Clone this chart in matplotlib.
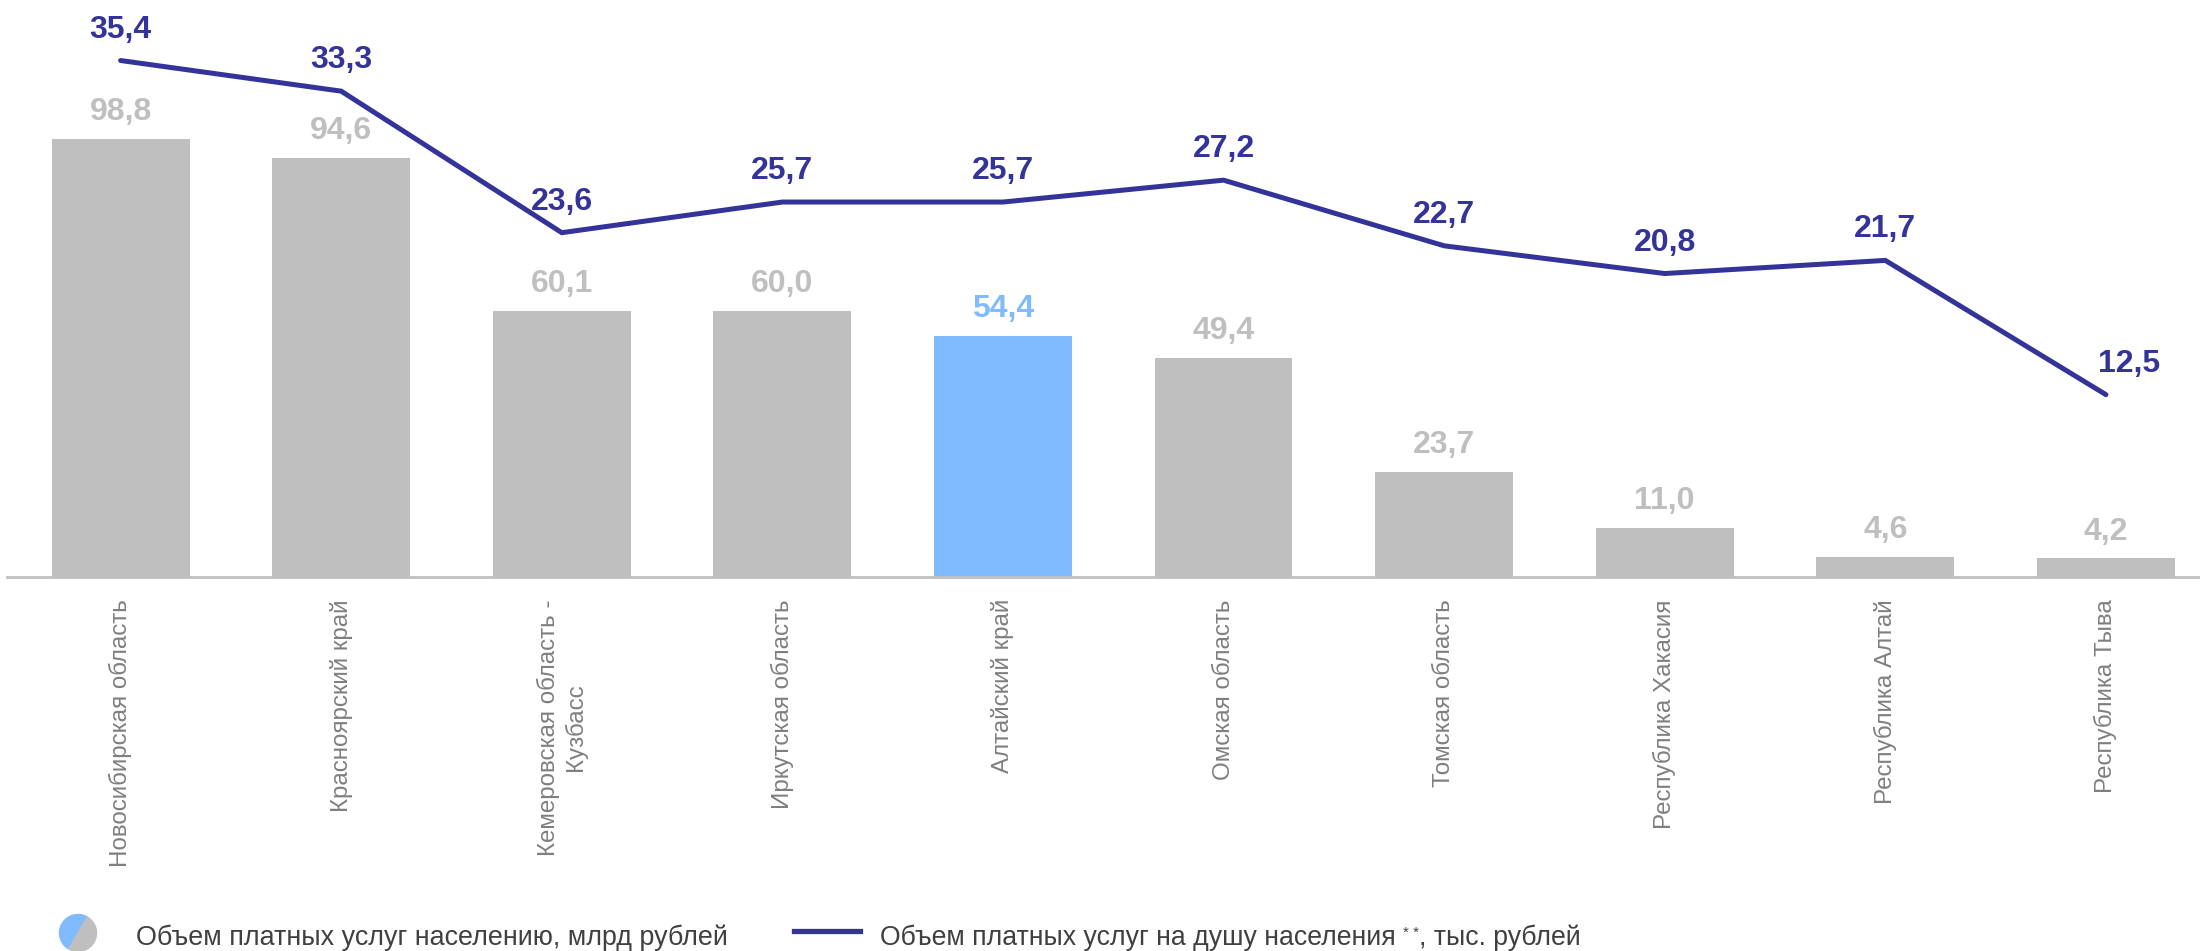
import matplotlib
matplotlib.use("Agg")
import matplotlib.pyplot as plt
from matplotlib.patches import Wedge
from matplotlib.lines import Line2D

plt.rcParams['font.family'] = ['Liberation Sans', 'DejaVu Sans']

# data
regions = ["Новосибирская область", "Красноярский край", "Кемеровская область -\nКузбасс",
           "Иркутская область", "Алтайский край", "Омская область", "Томская область",
           "Республика Хакасия", "Республика Алтай", "Республика Тыва"]
volume = [98.8, 94.6, 60.1, 60.0, 54.4, 49.4, 23.7, 11.0, 4.6, 4.2]      # млрд рублей
per_capita = [35.4, 33.3, 23.6, 25.7, 25.7, 27.2, 22.7, 20.8, 21.7, 12.5]  # тыс. рублей
highlight = "Алтайский край"

grey = "#bfbfbf"
blue = "#80bbff"
navy = "#333399"
txt_grey = "#7f7f7f"
W, H = 2200, 951

fig = plt.figure(figsize=(22, 9.51), dpi=100)
ax = fig.add_axes([7 / W, 1 - 577 / H, (W - 7) / W, 577 / H])
ax2 = ax.twinx()

x = list(range(len(regions)))
colors = [blue if r == highlight else grey for r in regions]
ax.bar(x, volume, width=0.625, color=colors, zorder=2)
for xi, v, c in zip(x, volume, colors):
    ax.annotate(f"{v:.1f}".replace(".", ","), (xi, v), xytext=(0, 13.5), textcoords="offset points",
                ha="center", va="baseline", fontsize=23, fontweight="bold", color=c)

ax2.plot(x, per_capita, color=navy, lw=3.6, solid_capstyle="round", solid_joinstyle="miter", zorder=3)
for i, (xi, v) in enumerate(zip(x, per_capita)):
    dx = 16.5 if i == len(x) - 1 else 0
    ax2.annotate(f"{v:.1f}".replace(".", ","), (xi, v), xytext=(dx, 16.5), textcoords="offset points",
                 ha="center", va="baseline", fontsize=23, fontweight="bold", color=navy)

ax.set_xlim(-0.515, (W - 120.5) / 220.6)
ax.set_ylim(0, 577 / 4.433)
ax2.set_ylim(0, 577 / 14.59)

for a in (ax, ax2):
    for s in ["top", "right", "left"]:
        a.spines[s].set_visible(False)
    a.set_yticks([])
ax2.spines["bottom"].set_visible(False)
ax.spines["bottom"].set_color("#c0c0c0")
ax.spines["bottom"].set_linewidth(2)

ax.set_xticks(x)
ax.set_xticklabels(regions, rotation=90, fontsize=17.4, color=txt_grey, ha="center", va="top",
                   multialignment="center")
ax.tick_params(axis="x", length=0, pad=16)

# legend
lax = fig.add_axes([0, 0, 1, 1], facecolor="none")
lax.set_xlim(0, W)
lax.set_ylim(H, 0)
lax.set_aspect("equal")
lax.axis("off")
lax.add_patch(Wedge((78, 933), 18.5, 120, 300, color=blue))
lax.add_patch(Wedge((78, 933), 18.5, -60, 120, color=grey))
lax.add_line(Line2D([794, 860], [931, 931], color=navy, lw=3.8))

leg_col = "#404040"
base_y = 1 - 945 / H
fig.text(136 / W, base_y, "Объем платных услуг населению, млрд рублей", fontsize=19.4,
         color=leg_col, va="baseline")
t1 = fig.text(880 / W, base_y, "Объем платных услуг на душу населения ", fontsize=19.2,
              color=leg_col, va="baseline")
t_star = ax.annotate("* *", xy=(1, 1), xycoords=t1, xytext=(0, -1), textcoords="offset points",
                     fontsize=11, color=leg_col, ha="left", va="top")
ax.annotate(", тыс. рублей", xy=(1, 0), xycoords=(t_star, t1), fontsize=19.2,
            color=leg_col, ha="left", va="bottom")

fig.savefig("out.png", dpi=100)
